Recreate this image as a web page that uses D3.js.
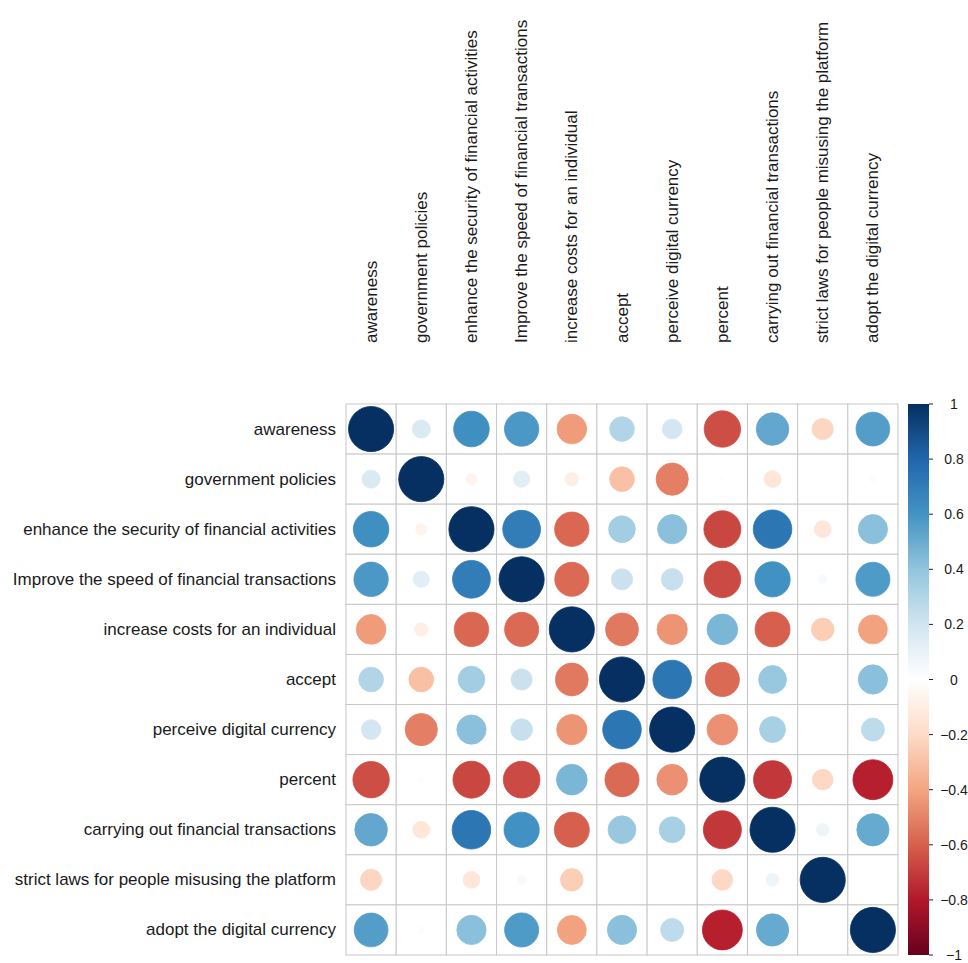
<!DOCTYPE html>
<html lang="en">
<head>
    <meta charset="UTF-8">
    <title>Correlation plot</title>
    <script src="https://d3js.org/d3.v7.min.js"></script>
    <style>
        body { margin: 0; background: #fff; }
        text { font-family: "Liberation Sans", Arial, sans-serif; fill: #1a1a1a; }
    </style>
</head>
<body>
    <svg width="968" height="963" id="chart"></svg>

    <script>
        const labels = [
            "awareness",
            "government policies",
            "enhance the security of financial activities",
            "Improve the speed of financial transactions",
            "increase costs for an individual",
            "accept",
            "perceive digital currency",
            "percent",
            "carrying out financial transactions",
            "strict laws for people misusing the platform",
            "adopt the digital currency"
        ];

        // correlation matrix, one array per row
        const rowAwareness  = [1, 0.16, 0.62, 0.58, -0.43, 0.30, 0.19, -0.65, 0.52, -0.22, 0.56];
        const rowGovernment = [0.16, 1, -0.06, 0.13, -0.09, -0.30, -0.51, -0.01, -0.14, 0.003, 0.02];
        const rowEnhance    = [0.62, -0.06, 1, 0.70, -0.58, 0.35, 0.42, -0.67, 0.73, -0.14, 0.42];
        const rowImprove    = [0.58, 0.13, 0.70, 1, -0.57, 0.22, 0.23, -0.66, 0.61, 0.04, 0.57];
        const rowCosts      = [-0.43, -0.09, -0.58, -0.57, 1, -0.53, -0.45, 0.46, -0.60, -0.25, -0.41];
        const rowAccept     = [0.30, -0.30, 0.35, 0.22, -0.53, 1, 0.73, -0.57, 0.38, 0.01, 0.42];
        const rowPerceive   = [0.19, -0.51, 0.42, 0.23, -0.45, 0.73, 1, -0.46, 0.33, 0.005, 0.26];
        const rowPercent    = [-0.65, -0.01, -0.67, -0.66, 0.46, -0.57, -0.46, 1, -0.71, -0.21, -0.78];
        const rowCarrying   = [0.52, -0.14, 0.73, 0.61, -0.60, 0.38, 0.33, -0.71, 1, 0.08, 0.51];
        const rowStrict     = [-0.22, 0.003, -0.14, 0.04, -0.25, 0.01, 0.005, -0.21, 0.08, 1, 0.01];
        const rowAdopt      = [0.56, 0.02, 0.42, 0.57, -0.41, 0.42, 0.26, -0.78, 0.51, 0.01, 1];

        const corrRows = [rowAwareness, rowGovernment, rowEnhance, rowImprove, rowCosts,
            rowAccept, rowPerceive, rowPercent, rowCarrying, rowStrict, rowAdopt];

        const legendTicks = [1, 0.8, 0.6, 0.4, 0.2, 0, -0.2, -0.4, -0.6, -0.8, -1];

        // corrplot RdBu palette
        const paletteStops = ["#67001F", "#B2182B", "#D6604D", "#F4A582", "#FDDBC7", "#FFFFFF",
            "#D1E5F0", "#92C5DE", "#4393C3", "#2166AC", "#053061"];

        const svg = d3.select("#chart");

        const gridLeft = 346, gridRight = 898, gridTop = 404, gridBottom = 955;

        const x = d3.scaleBand().domain(labels).range([gridLeft, gridRight]);
        const y = d3.scaleBand().domain(labels).range([gridTop, gridBottom]);
        const color = d3.scaleLinear()
            .domain(d3.range(paletteStops.length).map(i => -1 + i * 2 / (paletteStops.length - 1)))
            .range(paletteStops)
            .interpolate(d3.interpolateRgb);
        const radius = d3.scaleSqrt().domain([0, 1]).range([0, x.bandwidth() * 0.45]);

        const cells = [];
        corrRows.forEach((row, i) => row.forEach((v, j) => cells.push({ row: labels[i], col: labels[j], v })));

        // grid cells
        svg.append("g").selectAll("rect")
            .data(cells)
            .join("rect")
            .attr("x", d => x(d.col))
            .attr("y", d => y(d.row))
            .attr("width", x.bandwidth())
            .attr("height", y.bandwidth())
            .attr("fill", "#fff")
            .attr("stroke", "#c8c8c8")
            .attr("stroke-width", 1);

        // circles
        svg.append("g").selectAll("circle")
            .data(cells)
            .join("circle")
            .attr("cx", d => x(d.col) + x.bandwidth() / 2)
            .attr("cy", d => y(d.row) + y.bandwidth() / 2)
            .attr("r", d => radius(Math.abs(d.v)))
            .attr("fill", d => color(d.v))
            .attr("stroke", d => color(d.v))
            .attr("stroke-width", 0.8);

        // row labels
        svg.append("g").selectAll("text")
            .data(labels)
            .join("text")
            .attr("x", gridLeft - 10)
            .attr("y", d => y(d) + y.bandwidth() / 2)
            .attr("text-anchor", "end")
            .attr("dominant-baseline", "central")
            .attr("font-size", 17)
            .text(d => d);

        // column labels (vertical)
        svg.append("g").selectAll("text")
            .data(labels)
            .join("text")
            .attr("transform", d => `translate(${x(d) + x.bandwidth() / 2},${gridTop - 61}) rotate(-90)`)
            .attr("text-anchor", "start")
            .attr("dominant-baseline", "central")
            .attr("font-size", 17)
            .text(d => d);

        // colour legend
        const legLeft = 908, legWidth = 21;
        const legendY = d3.scaleLinear().domain([-1, 1]).range([gridBottom, gridTop]);

        const defs = svg.append("defs");
        const grad = defs.append("linearGradient")
            .attr("id", "legendGrad")
            .attr("x1", 0).attr("y1", 1).attr("x2", 0).attr("y2", 0);
        grad.selectAll("stop")
            .data(paletteStops)
            .join("stop")
            .attr("offset", (d, i) => i / (paletteStops.length - 1))
            .attr("stop-color", d => d);

        svg.append("rect")
            .attr("x", legLeft)
            .attr("y", legendY(1))
            .attr("width", legWidth)
            .attr("height", legendY(-1) - legendY(1))
            .attr("fill", "url(#legendGrad)");

        const legendAxis = svg.append("g");
        legendAxis.selectAll("line")
            .data(legendTicks)
            .join("line")
            .attr("x1", legLeft + legWidth)
            .attr("x2", legLeft + legWidth + 4)
            .attr("y1", d => legendY(d))
            .attr("y2", d => legendY(d))
            .attr("stroke", "#222");
        legendAxis.selectAll("text")
            .data(legendTicks)
            .join("text")
            .attr("x", 954)
            .attr("y", d => legendY(d))
            .attr("text-anchor", "middle")
            .attr("dominant-baseline", "central")
            .attr("font-size", 14)
            .text(d => d3.format("")(d));
    </script>
</body>
</html>
